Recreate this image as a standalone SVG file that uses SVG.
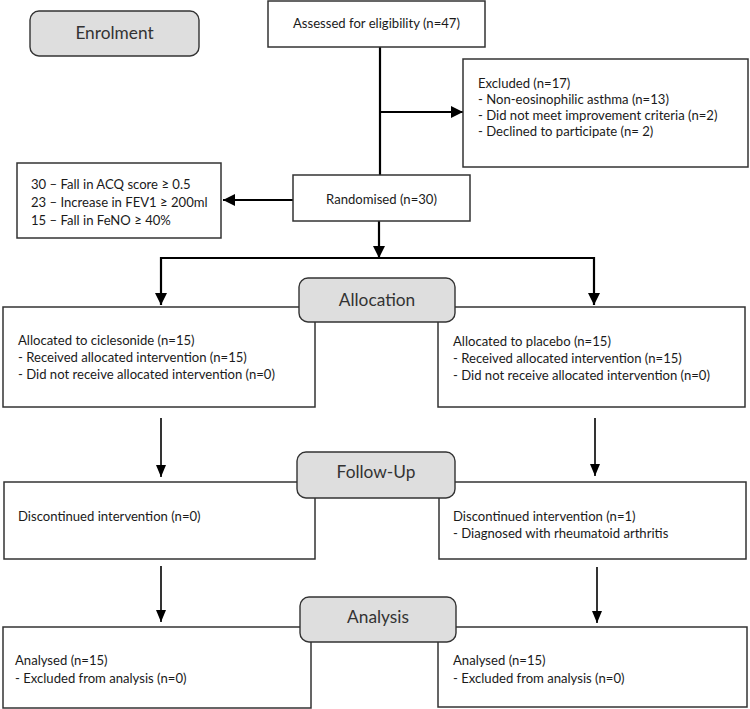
<svg xmlns="http://www.w3.org/2000/svg" width="750" height="709" viewBox="0 0 750 709">
<style>
.box{fill:#fff;stroke:#333;stroke-width:1.5}
.stage{fill:#dedede;stroke:#333;stroke-width:1.4}
.t{font-family:Lato,"Liberation Sans",sans-serif;font-size:13.1px;fill:#1a1a1a}
.s{font-family:Lato,"Liberation Sans",sans-serif;font-size:17.3px;fill:#333;text-anchor:middle}
.c{fill:none;stroke:#000}
.thick{stroke-width:2.2}
.thin{stroke-width:1.6}
</style>
<defs>
<marker id="ah" markerUnits="userSpaceOnUse" viewBox="0 0 12 12" refX="12" refY="6" markerWidth="12" markerHeight="12" orient="auto">
<path d="M0,0 L12,6 L0,12 z" fill="#000"/>
</marker>
<marker id="ah2" markerUnits="userSpaceOnUse" viewBox="0 0 12 10" refX="12" refY="5" markerWidth="12" markerHeight="10" orient="auto">
<path d="M0,0 L12,5 L0,10 z" fill="#000"/>
</marker>
</defs>
<g id="connectors">
<line class="c thick" x1="380" y1="47" x2="380" y2="175"/>
<line class="c thick" x1="380" y1="112" x2="463" y2="112" marker-end="url(#ah)"/>
<line class="c thick" x1="293" y1="200" x2="223" y2="200" marker-end="url(#ah)"/>
<line class="c thick" x1="379" y1="221" x2="379" y2="258" marker-end="url(#ah)"/>
<polyline class="c thick" points="161,305 161,258 594,258 594,305"/>
<path d="M155,293 L167,293 L161,305 z M588,293 L600,293 L594,305 z" fill="#000"/>
<line class="c thin" x1="161" y1="418" x2="161" y2="477" marker-end="url(#ah2)"/>
<line class="c thin" x1="595" y1="418" x2="595" y2="476" marker-end="url(#ah2)"/>
<line class="c thin" x1="161" y1="566" x2="161" y2="622" marker-end="url(#ah2)"/>
<line class="c thin" x1="597" y1="567" x2="597" y2="623" marker-end="url(#ah2)"/>
</g>
<g id="assessed">
<rect class="box" x="268" y="1" width="217" height="46"/>
<text class="t" x="293" y="28">Assessed for eligibility (n=47)</text>
</g>
<g id="excluded">
<rect class="box" x="463" y="59" width="285" height="108"/>
<text class="t" x="478" y="88">Excluded (n=17)</text>
<text class="t" x="478" y="104">- Non-eosinophilic asthma (n=13)</text>
<text class="t" x="478" y="120">- Did not meet improvement criteria (n=2)</text>
<text class="t" x="478" y="136">- Declined to participate (n= 2)</text>
</g>
<g id="randomised">
<rect class="box" x="293" y="175" width="177" height="46"/>
<text class="t" x="381.5" y="204" text-anchor="middle">Randomised (n=30)</text>
</g>
<g id="criteria">
<rect class="box" x="17" y="163" width="204" height="75"/>
<text class="t" x="31" y="189">30 – Fall in ACQ score ≥ 0.5</text>
<text class="t" x="31" y="207">23 – Increase in FEV1 ≥ 200ml</text>
<text class="t" x="31" y="225">15 – Fall in FeNO ≥ 40%</text>
</g>
<g id="alloc-left">
<rect class="box" x="3" y="307" width="312" height="100"/>
<text class="t" x="18" y="345">Allocated to ciclesonide (n=15)</text>
<text class="t" x="18" y="362">- Received allocated intervention (n=15)</text>
<text class="t" x="18" y="379">- Did not receive allocated intervention (n=0)</text>
</g>
<g id="alloc-right">
<rect class="box" x="438" y="307" width="307" height="100"/>
<text class="t" x="453" y="346">Allocated to placebo (n=15)</text>
<text class="t" x="453" y="363">- Received allocated intervention (n=15)</text>
<text class="t" x="453" y="380">- Did not receive allocated intervention (n=0)</text>
</g>
<g id="follow-left">
<rect class="box" x="4" y="482" width="311" height="77"/>
<text class="t" x="18" y="521">Discontinued intervention (n=0)</text>
</g>
<g id="follow-right">
<rect class="box" x="439" y="482" width="307" height="77"/>
<text class="t" x="453" y="521">Discontinued intervention (n=1)</text>
<text class="t" x="453" y="538">- Diagnosed with rheumatoid arthritis</text>
</g>
<g id="analysis-left">
<rect class="box" x="3" y="627" width="308" height="81"/>
<text class="t" x="15" y="665">Analysed (n=15)</text>
<text class="t" x="15" y="683">- Excluded from analysis (n=0)</text>
</g>
<g id="analysis-right">
<rect class="box" x="438" y="627" width="309" height="80"/>
<text class="t" x="453" y="665">Analysed (n=15)</text>
<text class="t" x="453" y="683">- Excluded from analysis (n=0)</text>
</g>
<g id="enrolment">
<rect class="stage" x="30" y="11" width="169" height="45" rx="9"/>
<text class="s" x="114.5" y="39">Enrolment</text>
</g>
<g id="allocation">
<rect class="stage" x="299" y="278" width="156" height="44" rx="9"/>
<text class="s" x="377" y="306">Allocation</text>
</g>
<g id="followup">
<rect class="stage" x="297" y="452" width="158" height="46" rx="9"/>
<text class="s" x="376" y="478">Follow-Up</text>
</g>
<g id="analysis">
<rect class="stage" x="300" y="597" width="156" height="45" rx="9"/>
<text class="s" x="378" y="623">Analysis</text>
</g>
</svg>
